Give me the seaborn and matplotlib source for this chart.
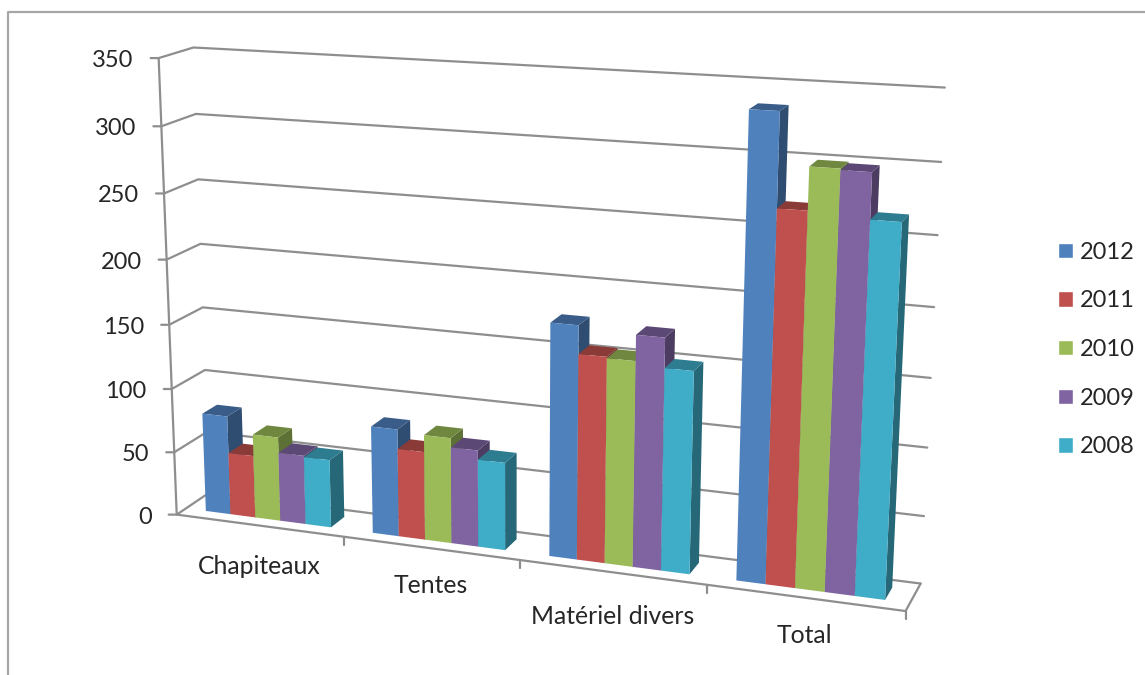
import numpy as np
import pandas as pd
import matplotlib
matplotlib.use("Agg")
import matplotlib.pyplot as plt
import seaborn as sns
from matplotlib.patches import Polygon
from matplotlib.transforms import Affine2D, Transform

# --- Data ---
CATEGORIES = ["Chapiteaux", "Tentes", "Matériel divers", "Total"]
YEARS = ["2012", "2011", "2010", "2009", "2008"]
VALUES_2012 = [78, 83, 175, 335]
VALUES_2011 = [49, 68, 154, 269]
VALUES_2010 = [66, 81, 153, 299]
VALUES_2009 = [54, 74, 172, 298]
VALUES_2008 = [53, 67, 150, 266]
COLORS = ["#4F81BD", "#C0504D", "#9BBB59", "#8064A2", "#3FACC8"]
Y_TICKS = [0, 50, 100, 150, 200, 250, 300, 350]

# --- Configuration ---
W, H = 1145, 675
GRID = "#8E8E8E"
FRAME = "#A6A6A6"
TEXT = "#262626"
FS = 17
FS_CAT = 17.8
BAR_FRONT, BAR_BACK = 0.28, 0.73
LABEL_DY = [41, 37, 44, 38]

# Camera fit: box corners (x, value, depth) seen at these pixels in the old Excel 3D view
CALIB = [
    (-0.5, 350, 0, 157, 58), (-0.5, 200, 0, 166, 259), (-0.5, 0, 0, 179, 513),
    (-0.5, 350, 1, 195, 48), (-0.5, 200, 1, 201, 244), (-0.5, 0, 1, 207, 493),
    (3.5, 350, 1, 945, 88), (3.5, 200, 1, 934, 306), (3.5, 0, 1, 921, 583),
    (3.5, 0, 0, 905, 610), (0.5, 0, 0, 344, 537), (1.5, 0, 0, 520, 561), (2.5, 0, 0, 707, 587),
]


def fit_camera(points):
    rows = []
    for x, y, z, u, v in points:
        p = [x, y / 350, z, 1]
        rows.append(p + [0, 0, 0, 0] + [-u / 1000 * c for c in p])
        rows.append([0, 0, 0, 0] + p + [-v / 1000 * c for c in p])
    return np.linalg.svd(np.array(rows))[2][-1].reshape(3, 4)


CAM = fit_camera(CALIB)


def project(x, y, z):
    x, y, z = np.broadcast_arrays(np.asarray(x, float), np.asarray(y, float), np.asarray(z, float))
    q = CAM @ np.stack([x, y / 350, z, np.ones_like(x)])
    return np.stack([1000 * q[0] / q[2], 1000 * q[1] / q[2]], axis=-1)


class DepthPlane(Transform):
    """Sends (x, value) on the plane of a given depth to image pixels."""
    input_dims = 2
    output_dims = 2

    def __init__(self, z):
        super().__init__()
        self.z = z

    def transform_non_affine(self, values):
        values = np.asarray(values, float)
        return project(values[:, 0], values[:, 1], self.z)


def shade(color, k):
    return tuple(c * k for c in matplotlib.colors.to_rgb(color))


sns.set_theme(style="white")
plt.rcParams["font.family"] = ["Lato", "DejaVu Sans"]

df = pd.DataFrame({
    "category": CATEGORIES * len(YEARS),
    "year": np.repeat(YEARS, len(CATEGORIES)),
    "value": VALUES_2012 + VALUES_2011 + VALUES_2010 + VALUES_2009 + VALUES_2008,
})

fig = plt.figure(figsize=(W / 100, H / 100), dpi=100)
ax = fig.add_axes([0, 0, 1, 1])
sns.barplot(data=df, x="category", y="value", hue="year", order=CATEGORIES, hue_order=YEARS,
            palette=COLORS, saturation=1, width=0.755, gap=0, errorbar=None, ax=ax)
ax.set_xlabel("")
ax.set_ylabel("")
ax.set_axis_off()

pix = Affine2D().scale(1 / W, -1 / H).translate(0, 1) + fig.transFigure
front_plane = DepthPlane(BAR_FRONT) + pix


def line(pts, color=GRID, lw=1.6):
    pts = np.asarray(pts)
    ax.plot(pts[:, 0], pts[:, 1], color=color, lw=lw, transform=pix, clip_on=False,
            zorder=1, solid_capstyle="round", solid_joinstyle="round")


# Outer chart frame, open on the right and bottom
line([(8, H), (8, 12), (W, 12)], color=FRAME, lw=1.6)

# Walls and floor
for tick in Y_TICKS:
    a = project(-0.5, tick, 0)
    b = project(-0.5, tick, 1)
    c = project(3.5, tick, 1)
    line([a - (8, 0), a, b, c])
    ax.text(a[0] - 25, a[1] + 2.5, str(tick), transform=pix, ha="right", va="center",
            fontsize=FS, color=TEXT)
line([project(-0.5, 350, 0), project(-0.5, 0, 0), project(3.5, 0, 0), project(3.5, 0, 1)])
for i, name in enumerate(CATEGORIES):
    t = project(i + 0.5, 0, 0)
    line([t, t + (0, 8)])
    m = project(i, 0, 0)
    ax.text(m[0], m[1] + LABEL_DY[i], name, transform=pix, ha="center", va="center",
            fontsize=FS_CAT, color=TEXT)

# Bars come from seaborn, then get pushed onto the front plane and given a side and a top
bars = sorted((b for c in ax.containers for b in c), key=lambda b: b.get_x())
for n, bar in enumerate(bars):
    col = bar.get_facecolor()
    x0, x1, h = bar.get_x(), bar.get_x() + bar.get_width(), bar.get_height()
    bar.set_transform(front_plane)
    bar.set_clip_on(False)
    bar.set_linewidth(0)
    bar.set_zorder(3 + 2 * n + 1)
    side = project([x1, x1, x1, x1], [0, h, h, 0], [BAR_FRONT, BAR_FRONT, BAR_BACK, BAR_BACK])
    top = project([x0, x1, x1, x0], [h, h, h, h], [BAR_FRONT, BAR_FRONT, BAR_BACK, BAR_BACK])
    ax.add_patch(Polygon(side, closed=True, fc=shade(col, 0.6), ec="none", transform=pix,
                         clip_on=False, zorder=3 + 2 * n))
    ax.add_patch(Polygon(top, closed=True, fc=shade(col, 0.72), ec="none", transform=pix,
                         clip_on=False, zorder=3 + 2 * n))

sns.move_legend(ax, "center left", bbox_to_anchor=(1051 / W, 1 - 349.5 / H), title=None, frameon=False,
                fontsize=FS, handlelength=0.63, handleheight=0.63, handletextpad=0.3,
                labelspacing=1.17, borderpad=0.3, borderaxespad=0)
for t in ax.get_legend().get_texts():
    t.set_color(TEXT)

fig.savefig("out.png", dpi=100)
